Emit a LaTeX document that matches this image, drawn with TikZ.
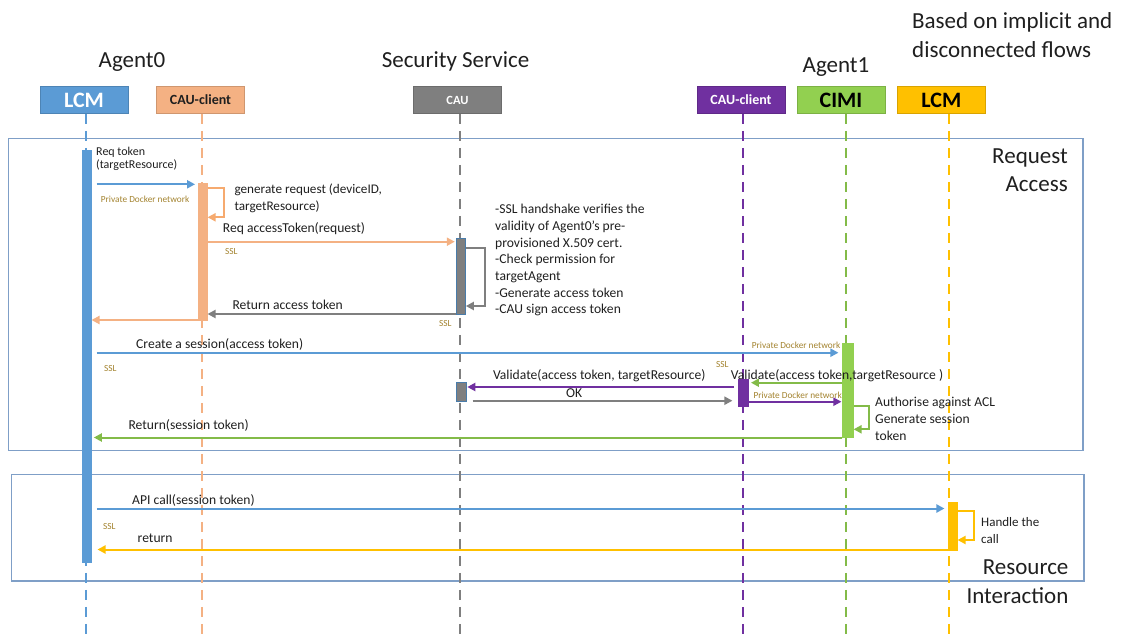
\documentclass[tikz,border=0pt]{standalone}
\usepackage{fontspec}
\setmainfont{Carlito}
\usetikzlibrary{arrows.meta}
\definecolor{cblue}{HTML}{5B9BD5}
\definecolor{corange}{HTML}{F4B183}
\definecolor{cgray}{HTML}{7F7F7F}
\definecolor{cpurple}{HTML}{7030A0}
\definecolor{cgreen}{HTML}{92D050}
\definecolor{cyellow}{HTML}{FFC000}
\definecolor{cframe}{HTML}{7F9FC7}
\definecolor{cnote}{HTML}{A3832F}
\definecolor{ctext}{HTML}{1F1F1F}
\begin{document}
\begin{tikzpicture}[x=1pt,y=-1pt,
  hdr/.style={minimum width=88pt, minimum height=27pt, inner sep=0pt, draw=#1!85!black, line width=0.6pt, fill=#1},
  big/.style={font=\fontsize{23}{28.4}\selectfont, text=ctext, inner sep=0pt},
  lbl/.style={font=\fontsize{13.6}{16.7}\selectfont, text=ctext, inner sep=0pt, anchor=base west, align=left},
  note/.style={font=\fontsize{9.3}{11}\selectfont, text=cnote, inner sep=0pt, anchor=base west},
  life/.style={line width=2pt, dash pattern=on 10pt off 7pt},
  act/.style={inner sep=0pt, minimum width=9.5pt, draw=#1, fill=#1, line width=0.5pt},
  msg/.style={line width=2pt, -{Triangle[length=8pt,width=8pt]}},
  frame/.style={draw=cframe, line width=1.2pt}
]
\useasboundingbox (0,0) rectangle (1123,637);
% frames
\draw[frame] (8.3,138.5) rectangle (1083,450.7);
\draw[frame] (11.8,474.5) rectangle (1084,581);
% titles (multi-line nodes: base = last line)
\node[big, anchor=base] (tA0) at (132,67) {Agent0};
\node[big, anchor=base] (tSS) at (455.5,67) {Security Service};
\node[big, anchor=base] (tA1) at (836,72) {Agent1};
\node[big, anchor=base west, align=left] (tBased) at (912,57) {Based on implicit and\\disconnected flows};
\node[big, anchor=base east, align=right] (tRA) at (1068,191.7) {Request\\Access};
\node[big, anchor=base east, align=right] (tRI) at (1068.6,603) {Resource\\Interaction};
% headers
\node[hdr=cblue, text=white, font=\bfseries\fontsize{22}{22}\selectfont] (hL0) at (84,100.1) {LCM};
\node[hdr=corange, text=ctext, font=\bfseries\fontsize{14}{14}\selectfont] (hC0) at (200.5,100.1) {CAU-client};
\node[hdr=cgray, text=white, font=\bfseries\fontsize{12.5}{12.5}\selectfont] (hCAU) at (457.5,100.1) {CAU};
\node[hdr=cpurple, text=white, font=\bfseries\fontsize{14}{14}\selectfont] (hC1) at (741,100.1) {CAU-client};
\node[hdr=cgreen, text=black, font=\bfseries\fontsize{22}{22}\selectfont] (hCIMI) at (841,100.1) {CIMI};
\node[hdr=cyellow, text=black, font=\bfseries\fontsize{22}{22}\selectfont] (hL1) at (941.3,100.1) {LCM};
% lifelines
\draw[life, draw=cblue] (hL0.south -| 86,0) -- (86,637);
\draw[life, draw=corange] (hC0.south -| 201.5,0) -- (201.5,637);
\draw[life, draw=cgray] (hCAU.south -| 459.5,0) -- (459.5,637);
\draw[life, draw=cpurple] (hC1.south -| 742.5,0) -- (742.5,637);
\draw[life, draw=cgreen!90!black] (hCIMI.south -| 845.5,0) -- (845.5,637);
\draw[life, draw=cyellow] (hL1.south -| 949,0) -- (949,637);
% activation bars
\node[act=cblue, minimum height=412.7pt] (aL0) at (86.5,356.3) {};
\node[act=corange, minimum width=9pt, minimum height=137.4pt] (aC0) at (202.8,252) {};
\node[act=cgray, draw=cblue!80!black, minimum height=76pt] (aCAU1) at (460.8,276.3) {};
\node[act=cgray, draw=cblue!80!black, minimum height=18.7pt] (aCAU2) at (461,391.7) {};
\node[act=cpurple, minimum width=10pt, minimum height=27.4pt] (aC1) at (743.3,393) {};
\node[act=cgreen, minimum width=10.6pt, minimum height=94pt] (aCIMI) at (848,390.3) {};
\node[act=cyellow, minimum width=8.6pt, minimum height=48pt] (aL1) at (953,526.7) {};
% messages
\draw[msg, draw=cblue, shorten <=5pt, shorten >=3pt] (aL0.east |- 0,184.3) -- (aC0.west |- 0,184.3);
\node[lbl, font=\fontsize{12}{13.6}\selectfont] (m1) at (96,168.6) {Req token\\(targetResource)};
\node[note] (n1) at (100.7,202.3) {Private Docker network};

\draw[msg, draw=corange!85!orange] (aC0.east |- 0,187.7) -- ++(16,0) |- (aC0.east |- 0,217.3);
\node[lbl, font=\fontsize{13.2}{16.5}\selectfont] (m2) at (234.3,210.2) {generate request (deviceID,\\targetResource)};

\draw[msg, draw=corange, shorten >=1pt] (aC0.east |- 0,241.7) -- (aCAU1.west |- 0,241.7);
\node[lbl] (m3) at (222.7,232.5) {Req accessToken(request)};
\node[note] (n2) at (225,254.5) {SSL};

\draw[msg, draw=cgray] (aCAU1.east |- 0,248.3) -- ++(19,0) |- (aCAU1.east |- 0,306);
\node[lbl] (m4) at (495,313.8) {-SSL handshake verifies the\\validity of Agent0’s pre-\\provisioned X.509 cert.\\-Check permission for\\targetAgent\\-Generate access token\\-CAU sign access token};

\draw[msg, draw=cgray] (aCAU1.west |- 0,314) -- (aC0.east |- 0,314);
\node[lbl] (m5) at (232.3,309.5) {Return access token};
\node[note] (n3) at (439,326.5) {SSL};

\draw[msg, draw=corange] (aC0.west |- 0,320) -- (aL0.east |- 0,320);

\draw[msg, draw=cblue, shorten <=5pt, shorten >=4pt] (aL0.east |- 0,352.7) -- (aCIMI.west |- 0,352.7);
\node[lbl] (m6) at (136,348.8) {Create a session(access token)};
\node[note] (n4) at (104,371.5) {SSL};
\node[note] (n5) at (751.7,348) {Private Docker network};
\node[note] (n6) at (716,367.5) {SSL};

\draw[msg, draw=cgreen!90!black, shorten >=2.4pt] (aCIMI.west |- 0,382.7) -- (aC1.east |- 0,382.7);
\node[lbl] (m7) at (730.7,379.5) {Validate(access token,targetResource )};

\draw[msg, draw=cpurple, shorten <=4pt, shorten >=1.3pt] (aC1.west |- 0,387) -- (aCAU2.east |- 0,387);
\node[lbl, anchor=base east] (m8) at (705.7,379.5) {Validate(access token, targetResource)};

\draw[msg, draw=cgray, shorten <=6.7pt, shorten >=5.6pt] (aCAU2.east |- 0,400.7) -- (aC1.west |- 0,400.7);
\node[lbl] (m9) at (566,397.8) {OK};

\draw[msg, draw=cpurple, shorten >=1pt] (aC1.east |- 0,401.7) -- (aCIMI.west |- 0,401.7);
\node[note] (n7) at (753.3,398) {Private Docker network};

\draw[msg, draw=cgreen!90!black] (aCIMI.east |- 0,406) -- ++(15,0) |- (aCIMI.east |- 0,429.3);
\node[lbl, font=\fontsize{13.6}{17.3}\selectfont] (m10) at (875,440.6) {Authorise against ACL\\Generate session\\token};

\draw[msg, draw=cgreen!90!black, shorten >=2.3pt] (aCIMI.west |- 0,437.5) -- (aL0.east |- 0,437.5);
\node[lbl] (m11) at (128.3,429.5) {Return(session token)};

\draw[msg, draw=cblue, shorten <=5.4pt, shorten >=4pt] (aL0.east |- 0,508.5) -- (aL1.west |- 0,508.5);
\node[lbl] (m12) at (132,504.5) {API call(session token)};
\node[note] (n8) at (103,529.5) {SSL};

\draw[msg, draw=cyellow] (aL1.east |- 0,510.7) -- ++(16.6,0) |- (aL1.east |- 0,540);
\node[lbl, font=\fontsize{13}{17}\selectfont] (m13) at (981,543) {Handle the\\call};

\draw[msg, draw=cyellow, shorten >=6pt] (aL1.west |- 0,549.5) -- (aL0.east |- 0,549.5);
\node[lbl] (m14) at (137.5,542) {return};
\end{tikzpicture}
\end{document}
